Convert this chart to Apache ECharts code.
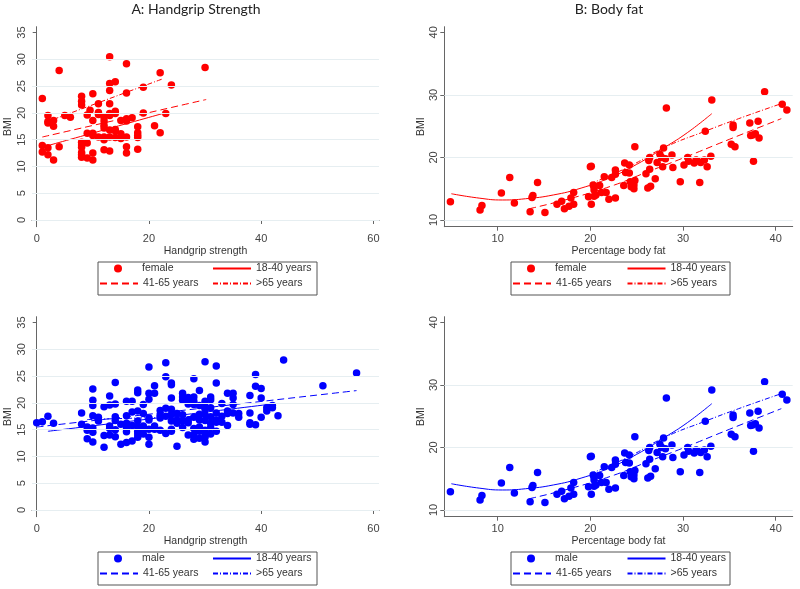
<!DOCTYPE html>
<html>
<head>
<meta charset="utf-8">
<script src="https://cdn.jsdelivr.net/npm/echarts@6/dist/echarts.min.js"></script>
<style>
html, body { margin: 0; padding: 0; background: #fff; }
#chart { width: 800px; height: 589px; }
</style>
</head>
<body>
<div id="chart"></div>
<script>
// handgrip strength vs BMI, women (x = handgrip, y = BMI)
var gripFemale = [
    [1, 22.7], [4, 27.9], [13, 30.5], [16, 29.2], [30, 28.5], [22, 27.5], [14, 25.8], [13, 25.5],
    [13, 24.2], [24, 25.2], [19, 24.8], [16, 23.7], [10, 23.6], [8, 23.1], [8, 22.2], [8, 21.5],
    [11, 21.7], [13, 21.7], [9.5, 20.5], [9, 19.6], [10, 18.6], [11, 20.1], [11, 19.7], [12, 19.2],
    [12, 18.5], [12, 17.7], [12, 17.2], [13, 19.9], [13, 19.5], [14, 20.3], [14, 19.9], [2, 19.5],
    [2, 18.4], [2, 18.1], [3, 18.6], [3, 17.5], [5, 19.5], [6, 19.2], [16, 18.9], [16, 18.5],
    [15, 18.6], [17, 19.1], [19, 20.0], [23, 19.9], [21, 17.6], [22, 16.3], [18, 17.4], [18, 16.3],
    [18, 15.8], [18, 15.4], [18, 13.2], [16, 15.5], [16, 13.7], [16, 12.5], [15, 16.1], [15, 15.2],
    [14, 16.9], [14, 16.6], [14, 15.4], [13, 16.8], [13, 15.5], [13, 12.9], [12, 15.5], [12, 15.0],
    [12, 13.1], [11, 15.5], [10, 16.2], [10, 15.8], [10, 12.5], [10, 11.2], [9, 16.2], [9, 14.4],
    [9, 11.6], [8, 14.5], [8, 14.0], [8, 13.6], [8, 12.6], [8, 12.2], [8, 11.7], [1, 13.9],
    [1, 12.7], [2, 13.5], [2, 12.2], [3, 11.2], [4, 13.7]
];

// handgrip strength vs BMI, men
var gripMale = [
    [0, 16.3], [1, 16.5], [2, 17.5], [3, 16.2], [8, 18.1], [8, 16.0], [9, 15.5], [9, 14.9],
    [9, 13.3], [10, 22.6], [10, 20.5], [10, 19.5], [10, 17.6], [10, 15.3], [10, 14.5], [10, 12.7],
    [11, 17.3], [11, 16.6], [12, 19.3], [12, 13.9], [12, 11.7], [13, 21.3], [13, 19.6], [13, 15.7],
    [13, 15.2], [13, 14.0], [14, 23.8], [14, 19.8], [14, 17.4], [14, 16.7], [14, 15.0], [14, 13.7],
    [15, 16.0], [15, 12.3], [16, 20.3], [16, 17.6], [16, 16.2], [16, 15.4], [16, 14.6], [16, 12.6],
    [17, 20.3], [17, 18.3], [17, 15.8], [17, 12.9], [18, 22.4], [18, 21.9], [18, 18.5], [18, 16.6],
    [18, 15.5], [18, 14.7], [18, 14.2], [18, 13.6], [19, 19.7], [19, 18.0], [19, 15.7], [19, 15.1],
    [19, 14.2], [20, 26.7], [20, 21.8], [20, 20.7], [20, 17.2], [20, 16.8], [20, 15.1], [20, 13.6],
    [20, 12.3], [21, 23.2], [21, 21.8], [21, 15.7], [21, 15.1], [22, 18.6], [22, 17.7], [22, 17.2],
    [22, 14.9], [23, 27.5], [23, 24.9], [23, 19.0], [23, 17.5], [23, 14.3], [24, 23.7], [24, 23.4],
    [24, 20.9], [24, 18.8], [24, 17.8], [24, 16.6], [24, 15.1], [24, 14.7], [25, 18.0], [25, 16.8],
    [25, 16.2], [25, 11.9], [26, 21.8], [26, 21.1], [26, 20.5], [26, 17.8], [26, 16.6], [26, 15.4],
    [27, 21.0], [27, 20.5], [27, 19.8], [27, 16.8], [27, 16.3], [27, 14.0], [28, 24.5], [28, 21.1],
    [28, 20.3], [28, 19.7], [28, 17.3], [28, 15.2], [28, 14.1], [28, 13.2], [29, 22.3], [29, 19.5],
    [29, 17.9], [29, 16.8], [29, 15.5], [29, 14.7], [29, 13.4], [30, 27.7], [30, 20.3], [30, 19.3],
    [30, 18.8], [30, 17.8], [30, 16.7], [30, 14.9], [30, 14.3], [30, 13.6], [30, 12.7], [31, 21.1],
    [31, 20.6], [31, 19.1], [31, 17.4], [31, 16.2], [31, 15.4], [31, 14.2], [32, 26.9], [32, 23.7],
    [32, 18.1], [32, 16.8], [32, 16.4], [32, 14.7], [33, 19.9], [33, 17.5], [33, 16.4], [34, 21.8],
    [34, 18.5], [34, 18.0], [34, 15.8], [35, 21.8], [35, 20.9], [35, 19.7], [35, 18.1], [36, 18.0],
    [36, 17.3], [38, 21.4], [38, 18.1], [38, 16.3], [38, 16.0], [39, 25.3], [39, 23.1], [39, 15.9],
    [40, 22.7], [40, 20.9], [40, 17.3], [41, 19.1], [41, 18.5], [42, 19.5], [42, 19.1], [43, 17.6],
    [44, 28.0], [51, 23.2], [57, 25.6]
];

// percentage body fat vs BMI (the two body fat panels show the same points)
var bodyFat = [
    [4.9, 12.9], [8.1, 11.6], [8.3, 12.3], [10.4, 14.3], [11.3, 16.8], [11.8, 12.7], [13.5, 11.3],
    [13.7, 13.6], [13.8, 13.9], [14.3, 16.0], [15.1, 11.2], [16.4, 12.5], [16.9, 13.0], [17.2, 11.8],
    [17.7, 12.2], [17.9, 13.5], [18.2, 12.5], [18.2, 14.4], [20.0, 18.5], [20.1, 18.6], [19.8, 13.7],
    [20.1, 12.5], [20.3, 15.6], [20.4, 15.3], [20.4, 14.8], [20.4, 13.8], [20.6, 14.0], [21.0, 15.5],
    [21.2, 14.4], [21.5, 16.9], [21.7, 14.4], [22.0, 13.3], [22.3, 16.8], [22.7, 18.0], [22.7, 17.3],
    [22.7, 13.5], [23.7, 19.1], [23.8, 17.6], [23.6, 15.5], [24.2, 18.8], [24.2, 17.5], [24.3, 16.1],
    [24.4, 15.3], [24.8, 21.7], [24.8, 16.3], [24.7, 15.6], [24.7, 15.0], [26.0, 17.4], [26.3, 19.5],
    [26.4, 20.0], [26.4, 18.1], [26.2, 15.1], [26.5, 15.4], [27.0, 16.6], [27.2, 19.2], [27.5, 20.5],
    [27.7, 20.0], [27.8, 18.5], [27.9, 21.5], [28.1, 19.8], [28.2, 27.9], [28.8, 20.4], [28.9, 18.4],
    [29.7, 16.1], [30.1, 18.8], [30.5, 20.0], [30.6, 19.4], [31.2, 19.1], [31.4, 19.6], [31.5, 19.5],
    [31.8, 16.0], [31.9, 19.2], [32.3, 19.6], [32.4, 24.2], [32.6, 18.5], [33.0, 20.2], [33.1, 29.2],
    [35.2, 22.1], [35.4, 25.2], [35.4, 24.8], [35.6, 21.7], [37.2, 25.5], [37.3, 23.5], [37.5, 23.6],
    [37.6, 19.4], [37.8, 23.8], [38.1, 25.8], [38.2, 23.1], [38.8, 30.5], [40.7, 28.5], [41.2, 27.6]
];

// fitted lines by age group
var gripFemaleFit1840 = [[2, 13.9], [23.2, 20.1]];
var gripFemaleFit4165 = [[1, 15.5], [30.2, 22.5]];
var gripFemaleFit65 = [[3, 18.8], [22.3, 26.3]];

var gripMaleFit1840 = [[2, 14.7], [42, 19.8]];
var gripMaleFit4165 = [[0, 15.5], [57, 22.3]];
var gripMaleFit65 = [[9, 16.9], [32, 17.6]];

var fatFit1840 = [[5, 14.2], [8, 13.5], [10.5, 13.2], [13, 13.4], [16, 14.0], [19, 15.1], [22, 16.7],
    [25, 18.9], [28, 21.6], [30.5, 24.0], [33.1, 27.0]];
var fatFit4165 = [[13.4, 11.8], [18, 13.5], [22.6, 15.6], [26, 17.6], [30, 19.9], [35, 22.9], [40.6, 26.2]];
var fatFit65 = [[20, 15.8], [24, 18.4], [28, 21.6], [32.4, 24.2], [36, 26.2], [40.6, 28.6]];

var gripTicks = [0, 20, 40, 60];
var bmiTicksGrip = [0, 5, 10, 15, 20, 25, 30, 35];
var fatTicks = [10, 20, 30, 40];
var bmiTicksFat = [10, 20, 30, 40];
var gridBmiGrip = [0, 5, 10, 15, 20, 25, 30];
var gridBmiFat = [10, 20, 30];

var RED = '#ff0000';
var BLUE = '#0000ff';
var FONT = 'Liberation Sans';

function xAxisFor(gridIndex, min, max, ticks, name) {
    return {
        gridIndex: gridIndex,
        type: 'value',
        min: min,
        max: max,
        name: name,
        nameLocation: 'middle',
        nameGap: 15,
        nameTextStyle: { fontFamily: FONT, fontSize: 10.5, color: '#333', verticalAlign: 'top' },
        axisLine: { show: true, lineStyle: { color: '#666', width: 1 } },
        axisTick: { show: true, length: 4, lineStyle: { color: '#666' }, customValues: ticks },
        axisLabel: { fontFamily: FONT, fontSize: 11, color: '#444', margin: 7, customValues: ticks },
        splitLine: { show: false }
    };
}

function yAxisFor(gridIndex, min, max, ticks) {
    return {
        gridIndex: gridIndex,
        type: 'value',
        min: min,
        max: max,
        name: 'BMI',
        nameLocation: 'middle',
        nameGap: 18,
        nameTextStyle: { fontFamily: FONT, fontSize: 10.5, color: '#333' },
        axisLine: { show: true, lineStyle: { color: '#666', width: 1 } },
        axisTick: { show: true, length: 4, lineStyle: { color: '#666' }, customValues: ticks },
        axisLabel: { fontFamily: FONT, fontSize: 11, color: '#444', margin: 5, rotate: 90, customValues: ticks },
        splitLine: { show: false }
    };
}

function panelSeries(idx, tag, color, points, fit1, fit2, fit3, gridValues, label) {
    return [
        {
            // grid lines drawn under the points
            name: 'grid' + tag,
            type: 'line',
            xAxisIndex: idx,
            yAxisIndex: idx,
            data: [],
            z: 1,
            silent: true,
            markLine: {
                silent: true,
                symbol: 'none',
                label: { show: false },
                lineStyle: { color: '#e6eef1', type: 'solid', width: 1 },
                data: gridValues.map(function (v) { return { yAxis: v }; })
            }
        },
        {
            name: label + '|' + tag,
            type: 'scatter',
            xAxisIndex: idx,
            yAxisIndex: idx,
            data: points,
            symbol: 'circle',
            symbolSize: 7.5,
            itemStyle: { color: color, opacity: 1 },
            z: 3
        },
        {
            name: '18-40 years|' + tag,
            type: 'line',
            xAxisIndex: idx,
            yAxisIndex: idx,
            data: fit1,
            symbol: 'none',
            smooth: true,
            lineStyle: { color: color, width: 1, type: 'solid' },
            itemStyle: { color: color },
            z: 4
        },
        {
            name: '41-65 years|' + tag,
            type: 'line',
            xAxisIndex: idx,
            yAxisIndex: idx,
            data: fit2,
            symbol: 'none',
            smooth: true,
            lineStyle: { color: color, width: 1, type: [7, 4] },
            itemStyle: { color: color },
            z: 4
        },
        {
            name: '>65 years|' + tag,
            type: 'line',
            xAxisIndex: idx,
            yAxisIndex: idx,
            data: fit3,
            symbol: 'none',
            smooth: true,
            lineStyle: { color: color, width: 1, type: [5, 2, 1, 2] },
            itemStyle: { color: color },
            z: 4
        }
    ];
}

// one legend per entry so the two columns line up like the original
function legendItem(left, top, name, isMarker) {
    var item = isMarker
        ? { name: name, icon: 'circle' }
        : { name: name, itemStyle: { opacity: 0 } };
    return {
        left: left,
        top: top,
        orient: 'horizontal',
        padding: 0,
        itemWidth: 38,
        itemHeight: 8,
        selectedMode: false,
        data: [item],
        formatter: function (n) { return n.split('|')[0]; },
        textStyle: { fontFamily: FONT, fontSize: 10.5, color: '#333' }
    };
}

function legendBlock(x1, x2, y, tag, label) {
    return [
        legendItem(x1 + 15, y, label + '|' + tag, true),
        legendItem(x2, y, '18-40 years|' + tag, false),
        legendItem(x1, y + 15, '41-65 years|' + tag, false),
        legendItem(x2, y + 15, '>65 years|' + tag, false)
    ];
}

function legendBox(x, y) {
    return {
        type: 'rect',
        left: x,
        top: y,
        shape: { width: 219, height: 33 },
        style: { fill: 'none', stroke: '#555', lineWidth: 1 }
    };
}

var dom = document.getElementById('chart');
var myChart = echarts.init(dom, null, { renderer: 'canvas' });

var option = {
    animation: false,
    backgroundColor: '#fff',
    title: [
        { text: 'A: Handgrip Strength', left: 191, top: -3, textAlign: 'center',
          textStyle: { fontFamily: 'Lato', fontSize: 14, fontWeight: 'normal', color: '#222' } },
        { text: 'B: Body fat', left: 604, top: -3, textAlign: 'center',
          textStyle: { fontFamily: 'Lato', fontSize: 14, fontWeight: 'normal', color: '#222' } }
    ],
    grid: [
        { left: 32, top: 26.7, width: 347, height: 200 },
        { left: 444.3, top: 26.7, width: 348.4, height: 200 },
        { left: 32, top: 316.7, width: 347, height: 200 },
        { left: 444.3, top: 316.7, width: 348.4, height: 200 }
    ],
    xAxis: [
        xAxisFor(0, -0.84, 61, gripTicks, 'Handgrip strength'),
        xAxisFor(1, 4.24, 41.83, fatTicks, 'Percentage body fat'),
        xAxisFor(2, -0.84, 61, gripTicks, 'Handgrip strength'),
        xAxisFor(3, 4.24, 41.83, fatTicks, 'Percentage body fat')
    ],
    yAxis: [
        yAxisFor(0, -1.25, 36.1, bmiTicksGrip),
        yAxisFor(1, 8.93, 40.9, bmiTicksFat),
        yAxisFor(2, -1.25, 36.1, bmiTicksGrip),
        yAxisFor(3, 8.93, 40.9, bmiTicksFat)
    ],
    legend: [].concat(
        legendBlock(99, 212, 263, 'A', 'female'),
        legendBlock(512, 626.5, 263, 'B', 'female'),
        legendBlock(99, 212, 553, 'C', 'male'),
        legendBlock(512, 626.5, 553, 'D', 'male')
    ),
    graphic: [
        legendBox(95.5, 259.5),
        legendBox(508.5, 259.5),
        legendBox(95.5, 549.5),
        legendBox(508.5, 549.5)
    ],
    series: [].concat(
        panelSeries(0, 'A', RED, gripFemale, gripFemaleFit1840, gripFemaleFit4165, gripFemaleFit65, gridBmiGrip, 'female'),
        panelSeries(1, 'B', RED, bodyFat, fatFit1840, fatFit4165, fatFit65, gridBmiFat, 'female'),
        panelSeries(2, 'C', BLUE, gripMale, gripMaleFit1840, gripMaleFit4165, gripMaleFit65, gridBmiGrip, 'male'),
        panelSeries(3, 'D', BLUE, bodyFat, fatFit1840, fatFit4165, fatFit65, gridBmiFat, 'male')
    )
};

if (option && typeof option === "object") {
    myChart.setOption(option, true);
}
</script>
</body>
</html>
